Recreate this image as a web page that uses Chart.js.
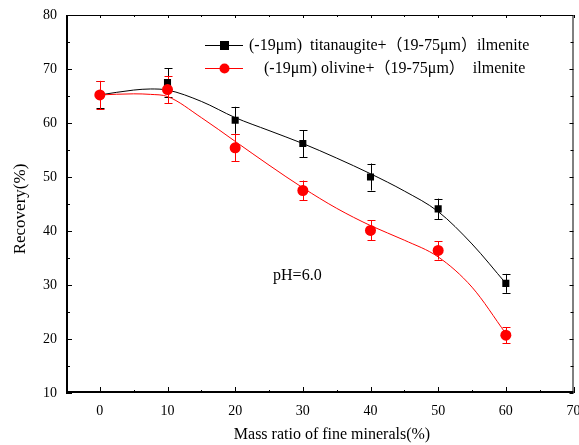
<!DOCTYPE html>
<html><head><meta charset="utf-8">
<script src="https://cdn.jsdelivr.net/npm/chart.js@4/dist/chart.umd.min.js"></script>
<style>html,body{margin:0;padding:0;background:#fff}#wrap{width:579px;height:445px;position:relative}</style>
</head><body><div id="wrap"><canvas id="c" width="579" height="445"></canvas></div>
<script>
// ---- data ----
const ratios = [0, 10, 20, 30, 40, 50, 60];
const titanaugite = [65.2, 67.5, 60.5, 56.2, 50.0, 44.1, 30.3];
const titanaugiteErr = [2.5, 2.6, 2.5, 2.5, 2.5, 1.9, 1.75];
const olivine = [65.2, 66.2, 55.4, 47.5, 40.1, 36.4, 20.7];
const olivineErr = [2.6, 2.5, 2.5, 1.85, 1.85, 1.7, 1.45];
const fitX = [0, 5, 7.5, 10, 15, 20, 25, 30, 35, 40, 45, 50, 55, 60];
const titanaugiteFit = [65.2, 66.1, 66.3, 66.1, 64.0, 61.0, 58.6, 56.2, 53.5, 50.6, 47.4, 43.6, 37.6, 30.3];
const olivineFit = [65.2, 65.4, 65.3, 64.9, 61.0, 56.6, 52.2, 48.0, 44.2, 41.0, 38.3, 35.2, 29.6, 21.0];
const xTicks = [0, 10, 20, 30, 40, 50, 60, 70];
const yTicks = [10, 20, 30, 40, 50, 60, 70, 80];
const legendLabels = ['(-19\u03bcm)  titanaugite+\uff0819-75\u03bcm\uff09ilmenite', '(-19\u03bcm) olivine+\uff0819-75\u03bcm\uff09  ilmenite'];
const xTitle = 'Mass ratio of fine minerals(%)';
const yTitle = 'Recovery(%)';
const note = 'pH=6.0';

const FONT = "'Liberation Serif','Times New Roman','Noto Sans CJK SC',serif";
const pts = (xs, ys) => xs.map((x, i) => ({x: x, y: ys[i]}));

const framePlugin = {
  id: 'frame',
  beforeDatasetsDraw(chart) {
    const ctx = chart.ctx, xs = chart.scales.x, ys = chart.scales.y;
    ctx.save();
    const drawErr = (vals, errs, color) => {
      ctx.strokeStyle = color; ctx.lineWidth = 1;
      vals.forEach((v, i) => {
        const px = Math.round(xs.getPixelForValue(ratios[i])) + 0.5;
        const top = ys.getPixelForValue(v + errs[i]);
        const bot = ys.getPixelForValue(v - errs[i]);
        ctx.beginPath();
        ctx.moveTo(px, top); ctx.lineTo(px, bot);
        ctx.moveTo(px - 4, Math.round(top) + 0.5); ctx.lineTo(px + 4, Math.round(top) + 0.5);
        ctx.moveTo(px - 4, Math.round(bot) + 0.5); ctx.lineTo(px + 4, Math.round(bot) + 0.5);
        ctx.stroke();
      });
    };
    drawErr(titanaugite, titanaugiteErr, '#000');
    drawErr(olivine, olivineErr, '#ff0000');
    ctx.restore();
  },
  afterDraw(chart) {
    const ctx = chart.ctx, a = chart.chartArea, xs = chart.scales.x, ys = chart.scales.y;
    ctx.save();
    ctx.strokeStyle = '#000';
    ctx.lineWidth = 1;
    ctx.strokeRect(a.left + 0.5, a.top + 0.5, a.right - a.left - 1, a.bottom - a.top - 1);
    ctx.lineWidth = 2;
    ctx.beginPath();
    ctx.moveTo(a.left + 1, a.top); ctx.lineTo(a.left + 1, a.bottom);
    ctx.moveTo(a.left, a.bottom - 1); ctx.lineTo(a.right, a.bottom - 1);
    ctx.stroke();
    ctx.lineWidth = 1;
    ctx.beginPath();
    for (let v = xs.min; v <= xs.max; v += 5) {
      const p = Math.round(xs.getPixelForValue(v)) + 0.5;
      const major = v % 10 === 0;
      const lb = major ? 6 : 3, lt = major ? 3 : 2;
      ctx.moveTo(p, a.bottom); ctx.lineTo(p, a.bottom - lb);
      ctx.moveTo(p, a.top); ctx.lineTo(p, a.top + lt);
    }
    for (let v = ys.min; v <= ys.max; v += 5) {
      const p = Math.round(ys.getPixelForValue(v)) + 0.5;
      const major = v % 10 === 0;
      const l = major ? 6 : 4;
      ctx.moveTo(a.left, p); ctx.lineTo(a.left + l, p);
      ctx.moveTo(a.right, p); ctx.lineTo(a.right - (major ? 4 : 3), p);
    }
    ctx.stroke();
    ctx.fillStyle = '#000';
    ctx.font = '16px ' + FONT;
    ctx.textAlign = 'center'; ctx.textBaseline = 'middle';
    ctx.fillText(xTitle, 332, 435);
    ctx.save();
    ctx.font = '17px ' + FONT;
    ctx.translate(21, 209); ctx.rotate(-Math.PI / 2);
    ctx.fillText(yTitle, 0, 0);
    ctx.restore();
    ctx.font = '16px ' + FONT;
    ctx.textAlign = 'left';
    ctx.fillText(note, xs.getPixelForValue(25.6), ys.getPixelForValue(31.7));
    const rows = [
      {y: 45, color: '#000', shape: 'rect', tx: 249, label: legendLabels[0]},
      {y: 68, color: '#ff0000', shape: 'circle', tx: 264, label: legendLabels[1]}
    ];
    rows.forEach(r => {
      ctx.strokeStyle = r.color; ctx.fillStyle = r.color; ctx.lineWidth = 1;
      ctx.beginPath(); ctx.moveTo(205, r.y + 0.5); ctx.lineTo(243, r.y + 0.5); ctx.stroke();
      if (r.shape === 'rect') ctx.fillRect(220, r.y - 4, 9, 9);
      else { ctx.beginPath(); ctx.arc(224.5, r.y + 0.5, 5, 0, Math.PI * 2); ctx.fill(); }
      ctx.fillStyle = '#000';
      ctx.fillText(r.label, r.tx, r.y + 1);
    });
    ctx.restore();
  }
};

new Chart(document.getElementById('c'), {
  type: 'scatter',
  data: {
    datasets: [
      {data: pts(fitX, titanaugiteFit), showLine: true, borderColor: '#000', borderWidth: 1, pointRadius: 0, cubicInterpolationMode: 'monotone', order: 4},
      {data: pts(fitX, olivineFit), showLine: true, borderColor: '#ff0000', borderWidth: 1, pointRadius: 0, cubicInterpolationMode: 'monotone', order: 3},
      {data: pts(ratios, titanaugite), showLine: false, pointStyle: 'rect', pointRadius: 5, backgroundColor: '#000', borderColor: '#000', borderWidth: 0, order: 2},
      {data: pts(ratios, olivine), showLine: false, pointStyle: 'circle', pointRadius: 5.5, backgroundColor: '#ff0000', borderColor: '#ff0000', borderWidth: 0, order: 1}
    ]
  },
  options: {
    responsive: false,
    animation: false,
    devicePixelRatio: 1,
    layout: {padding: {top: 15, right: 5, left: 0, bottom: 0}},
    plugins: {legend: {display: false}, tooltip: {enabled: false}},
    scales: {
      x: {
        type: 'linear', min: -5, max: 70,
        afterBuildTicks: s => { s.ticks = xTicks.map(v => ({value: v})); },
        afterFit: s => { s.height = 52; s.paddingLeft = 0; s.paddingRight = 0; },
        grid: {display: false, drawTicks: false}, border: {display: false},
        ticks: {padding: 10, color: '#000', font: {family: FONT, size: 14}, maxRotation: 0, autoSkip: false}
      },
      y: {
        type: 'linear', min: 10, max: 80,
        afterBuildTicks: s => { s.ticks = yTicks.map(v => ({value: v})); },
        afterFit: s => { s.width = 66; s.paddingTop = 0; s.paddingBottom = 0; },
        grid: {display: false, drawTicks: false}, border: {display: false},
        ticks: {padding: 9, color: '#000', font: {family: FONT, size: 14}}
      }
    }
  },
  plugins: [framePlugin]
});
</script>
</body></html>
